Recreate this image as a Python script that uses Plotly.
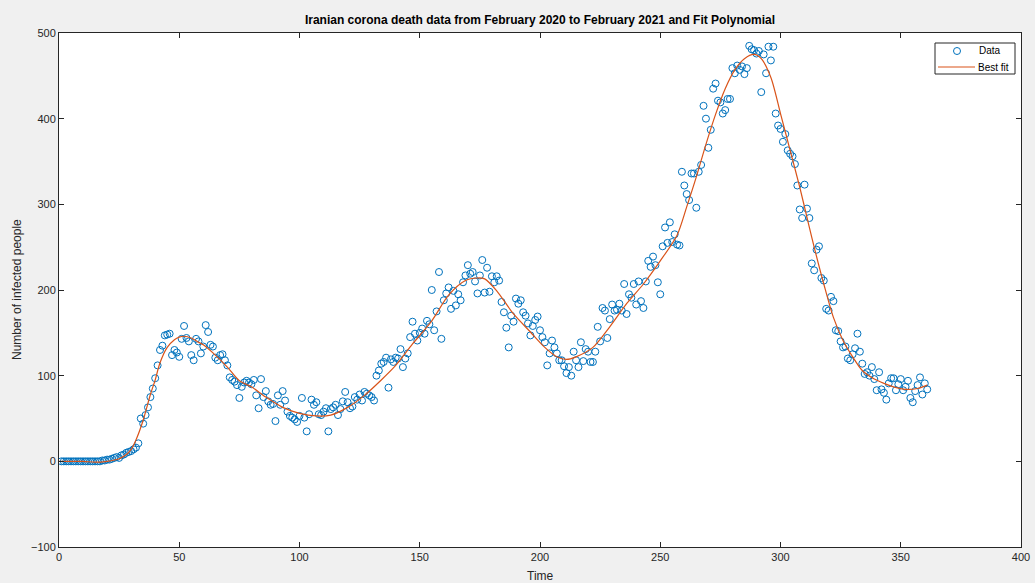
import plotly.graph_objects as go

# Daily deaths, day 1 .. 361
deaths_early = [0, 0, 0, 0, 0, 0, 0, 0, 0, 0, 0, 0, 0, 0, 0, 0, 0,
                1, 1, 2, 2, 3, 4, 5, 4, 7, 8, 10, 11, 12, 14, 16]
deaths_wave1 = [21, 50, 44, 54, 63, 75, 85, 97, 112, 130, 135, 147, 148, 149, 124,
                130, 127, 122, 143, 158, 144, 140, 124, 118, 143, 140, 126, 134,
                159, 151, 136, 134, 121, 118, 124, 125, 118, 112, 98, 95, 93, 89, 74]
deaths_trough1 = [87, 92, 94, 92, 90, 95, 77, 62, 96, 75, 82, 70, 66, 67, 47, 77, 66,
                  82, 71, 58, 53, 51, 49, 46, 53, 74, 51, 35, 55, 72, 66, 69, 55, 54,
                  58, 62, 35, 61, 63, 66, 54, 61, 70, 81, 69, 62, 64, 75, 72, 78, 71,
                  81, 79, 77, 75, 71, 100, 106, 114, 116, 121, 86, 119, 116, 121, 120]
deaths_wave2 = [131, 110, 120, 126, 145, 163, 149, 141, 150, 155, 149, 164, 160, 200,
                153, 175, 221, 143, 188, 196, 203, 178, 199, 182, 195, 188, 209, 217,
                229, 219, 221, 210, 196, 217, 235, 197, 226, 198, 216, 209, 216, 211,
                186, 174, 156, 133, 170, 163, 190, 184, 188, 174, 170, 161, 147, 158,
                165, 169, 153, 145, 139, 112, 126, 141, 133, 126, 118, 118, 111]
deaths_rise3 = [103, 110, 100, 128, 118, 110, 139, 117, 131, 128, 116, 116, 128, 157,
                140, 179, 176, 144, 166, 183, 176, 177, 184, 176, 207, 172, 195, 191,
                207, 183, 210, 187, 179, 210, 234, 227, 239, 229, 209, 195, 251, 273,
                255, 279, 256, 265, 253, 252, 338, 322, 312, 305, 336, 336, 296, 338, 346]
deaths_peak3 = [415, 400, 366, 387, 435, 441, 421, 419, 406, 410, 423, 423, 459, 453,
                462, 457, 461, 452, 459, 485, 481, 480, 476, 479, 431, 475, 453, 484,
                468, 484, 406, 392, 388, 373, 382, 363, 359, 356, 347, 322, 294, 284,
                323, 295, 284]
deaths_fall3 = [231, 223, 247, 251, 214, 211, 178, 176, 192, 187, 153, 152, 140, 133,
                134, 120, 118, 125, 132, 149, 128, 114, 102, 104, 100, 110, 96, 83, 104,
                84, 80, 72, 91, 97, 97, 83, 90, 96, 83, 87, 94, 74, 69, 82, 89, 98, 78,
                91, 84]

deaths = (deaths_early + deaths_wave1 + deaths_trough1 + deaths_wave2
          + deaths_rise3 + deaths_peak3 + deaths_fall3)
days = list(range(1, len(deaths) + 1))

# Best-fit curve
fit_days = [0, 5, 10, 15, 20, 25, 28, 30, 32, 35, 38, 40, 42, 45, 48, 50, 52, 55, 58,
            60, 65, 70, 75, 80, 86, 93, 100, 107, 113, 120, 127, 134, 140, 147, 155,
            162, 169, 174, 177, 182, 189, 196, 202, 207, 211, 215, 222, 229, 236, 243,
            250, 257, 261, 265, 269, 273, 277, 281, 285, 289, 292, 296, 300, 304, 308,
            312, 314, 318, 322, 326, 330, 334, 339, 343, 347, 352, 357, 361]
fit_vals = [0, 0, 0, -1, 0, 3, 8, 14, 25, 48, 78, 95, 115, 133, 142, 145, 146, 144,
            139, 136, 124, 110, 94, 87, 75, 63, 56, 53, 54, 63, 77, 95, 112, 137, 164,
            194, 211, 214, 213, 199, 172, 151, 133, 122, 119, 122, 133, 157, 184, 207,
            234, 264, 297, 332, 370, 405, 435, 457, 470, 475, 470, 448, 406, 363, 320,
            273, 250, 207, 168, 141, 122, 106, 96, 91, 87, 84, 85, 89]

legend_labels = ["Data", "Best fit"]
x_ticks = [0, 50, 100, 150, 200, 250, 300, 350, 400]
y_ticks = [-100, 0, 100, 200, 300, 400, 500]

FONT = "Liberation Sans, Arial, Helvetica, sans-serif"
AX = "#262626"
BLUE = "#0072BD"
ORANGE = "#D95319"
W, H = 1035, 583
ML, MR, MT, MB = 59, 14, 33, 36
PW, PH = W - ML - MR, H - MT - MB


def px_x(px):
    return (px - ML) / PW


def px_y(py):
    return 1 - (py - MT) / PH


fig = go.Figure()
fig.add_trace(go.Scatter(
    x=days, y=deaths, mode="markers", name=legend_labels[0], showlegend=False,
    marker=dict(symbol="circle-open", size=7, color=BLUE,
                line=dict(width=1, color=BLUE)),
))
fig.add_trace(go.Scatter(
    x=fit_days, y=fit_vals, mode="lines", name=legend_labels[1], showlegend=False,
    line=dict(color=ORANGE, width=1.2, shape="spline", smoothing=0.8),
))

axis_common = dict(
    showline=True, linecolor=AX, linewidth=1, mirror="ticks",
    ticks="inside", ticklen=5, tickcolor=AX, tickwidth=1,
    showgrid=False, zeroline=False, automargin=False,
    tickfont=dict(family=FONT, size=11, color=AX),
)
fig.update_xaxes(range=[0, 400], tickvals=x_ticks, **axis_common)
fig.update_yaxes(range=[-100, 500], tickvals=y_ticks, **axis_common)

# axis titles
fig.add_annotation(text="Time", xref="paper", yref="paper",
                   x=0.5, y=px_y(576), xanchor="center", yanchor="middle",
                   showarrow=False, font=dict(family=FONT, size=12, color=AX))
fig.add_annotation(text="Number of infected people", xref="paper", yref="paper",
                   x=px_x(17), y=0.5, xanchor="center", yanchor="middle",
                   textangle=-90, showarrow=False,
                   font=dict(family=FONT, size=12, color=AX))

# MATLAB-style legend box
fig.add_shape(type="rect", xref="paper", yref="paper",
              x0=px_x(935), x1=px_x(1015), y0=px_y(74), y1=px_y(43),
              fillcolor="white", line=dict(color=AX, width=1))
fig.add_shape(type="circle", xref="paper", yref="paper",
              xsizemode="pixel", ysizemode="pixel",
              xanchor=px_x(957), yanchor=px_y(51),
              x0=-3.5, x1=3.5, y0=-3.5, y1=3.5,
              line=dict(color=BLUE, width=1))
fig.add_shape(type="line", xref="paper", yref="paper",
              x0=px_x(938), x1=px_x(975), y0=px_y(67), y1=px_y(67),
              line=dict(color=ORANGE, width=1.2))
fig.add_annotation(text=legend_labels[0], xref="paper", yref="paper",
                   x=px_x(977), y=px_y(51), xanchor="left", yanchor="middle",
                   showarrow=False, font=dict(family=FONT, size=10, color="black"))
fig.add_annotation(text=legend_labels[1], xref="paper", yref="paper",
                   x=px_x(976), y=px_y(67), xanchor="left", yanchor="middle",
                   showarrow=False, font=dict(family=FONT, size=10, color="black"))

fig.update_layout(
    width=W, height=H,
    margin=dict(l=ML, r=MR, t=MT, b=MB, autoexpand=False),
    paper_bgcolor="#f0f0f0", plot_bgcolor="white",
    title=dict(text="<b>Iranian corona death data from February 2020 to February 2021 and Fit Polynomial</b>",
               x=0.5, xref="paper", xanchor="center", y=1 - 20 / H, yanchor="middle",
               font=dict(family=FONT, size=12, color="black")),
    showlegend=False,
)

fig.write_html("out.html", config={"displayModeBar": False},
               post_script="document.body.style.margin='0';")
